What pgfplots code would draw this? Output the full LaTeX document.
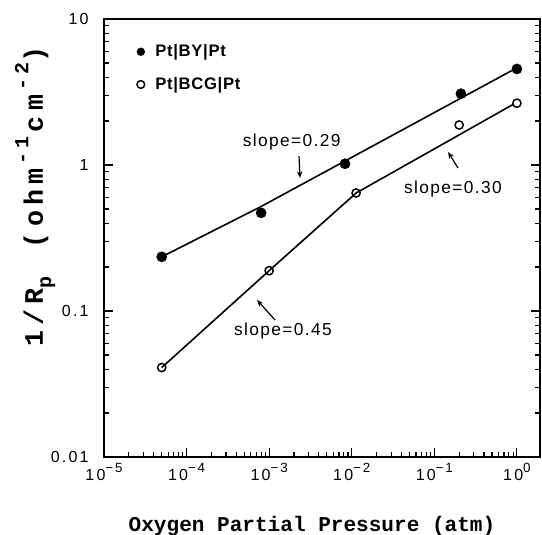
\documentclass[border=0pt]{standalone}
\usepackage{pgfplots}
\pgfplotsset{compat=1.18}
\usepackage{fontspec}
\usetikzlibrary{calc,arrows.meta}
\setmainfont{Liberation Sans}
\newfontfamily\labfont{Liberation Mono}
\newfontfamily\ylabfont{Liberation Mono}[LetterSpace=20]
\newfontfamily\tickfont{Liberation Sans}[LetterSpace=14]
\newfontfamily\slopefont{Liberation Sans}[LetterSpace=8]
\newfontfamily\legfont{Liberation Sans}[LetterSpace=4]
\newcommand\sx[1]{10\raisebox{0.5em}{\fontsize{10}{11}\selectfont #1}}

% 1/Rp vs pO2
\pgfplotstableread{
x y
5e-5 0.235
8e-4 0.47
8.3e-3 1.02
0.21 3.08
1.0 4.55
}\by
\pgfplotstableread{
x y
5e-5 0.041
1e-3 0.189
0.0113 0.643
0.20 1.88
1.0 2.65
}\bcg

\begin{document}
\begin{tikzpicture}
\begin{axis}[
  name=ax,
  xmode=log, ymode=log,
  scale only axis,
  width=327pt, height=328.5pt,
  xmin=1e-5, xmax=1.905,
  ymin=0.01, ymax=10,
  xtick={1e-5,1e-4,1e-3,1e-2,1e-1,1},
  xticklabels={\sx{−5},\sx{−4},\sx{−3},\sx{−2},\sx{−1},\sx{0}},
  ytick={0.01,0.1,1,10},
  yticklabels={0.01,0.1,1,10},
  xtick pos=bottom, ytick pos=both,
  tick align=inside,
  major tick length=7pt, minor tick length=3.5pt,
  axis line style={line width=1.3pt},
  every tick/.style={black, line width=0.9pt},
  tick label style={font=\tickfont\fontsize{12}{13}\selectfont},
  yticklabel style={xshift=-8pt},
  xticklabel style={yshift=-1pt},
  clip=false,
  legend style={at={(rel axis cs:0.075,0.948)}, anchor=north west,
    draw=none, fill=none, inner sep=0pt, row sep=10pt, column sep=6pt,
    font=\legfont\bfseries\fontsize{12.5}{14}\selectfont},
  legend cell align=left,
  legend image post style={mark size=2.9pt},
]
\addplot[black, line width=1.2pt, forget plot] coordinates {(5e-5,0.235) (8e-4,0.52) (0.865,4.43)};
\addplot[black, line width=1.2pt, forget plot] coordinates {(5e-5,0.041) (1e-3,0.189) (0.0113,0.643) (0.9,2.6)};
\addplot[only marks, mark=*, mark size=3.8pt, black] table[x=x,y=y] {\by};
\addlegendentry{Pt\textbar BY\textbar Pt}
\addplot[only marks, mark=o, mark size=3.1pt, black, line width=1.1pt, mark options={fill=white}] table[x=x,y=y] {\bcg};
\addlegendentry{Pt\textbar BCG\textbar Pt}

\draw[-{Stealth[length=5pt,width=4pt]}, line width=0.9pt] (axis cs:2.30e-3,1.15) -- (axis cs:2.36e-3,0.815);
\node[font=\slopefont\fontsize{13}{15}\selectfont] at (axis cs:1.875e-3,1.445) {slope=0.29};
\draw[-{Stealth[length=5pt,width=4pt]}, line width=0.9pt] (axis cs:0.1936,0.954) -- (axis cs:0.1466,1.228);
\node[font=\slopefont\fontsize{13}{15}\selectfont] at (axis cs:0.168,0.681) {slope=0.30};
\draw[-{Stealth[length=5pt,width=4pt]}, line width=0.9pt] (axis cs:1.18e-3,0.0867) -- (axis cs:7.13e-4,0.119);
\node[font=\slopefont\fontsize{13}{15}\selectfont] at (axis cs:1.47e-3,0.073) {slope=0.45};
\end{axis}

\node[anchor=base, font=\labfont\bfseries\fontsize{15.8}{18}\selectfont]
  at ($(ax.south)+(-7.5pt,-55.5pt)$) {Oxygen Partial Pressure (atm)};
\node[anchor=base, rotate=90, font=\ylabfont\bfseries\fontsize{20}{24}\selectfont]
  at ($(ax.south west)!0.594!(ax.north west)+(-45.75pt,0)$)
  {1/R\raisebox{-0.3em}{\fontsize{15}{18}\selectfont p}\hspace{5pt} (ohm\hspace{3pt}\raisebox{0.55em}{\fontsize{15}{18}\selectfont -1}\hspace{3pt}cm\hspace{3pt}\raisebox{0.55em}{\fontsize{15}{18}\selectfont -2})};

\pgfresetboundingbox
\path[use as bounding box] ($(ax.south west)+(-78pt,-57.75pt)$) rectangle ($(ax.north east)+(1.5pt,14.25pt)$);
\end{tikzpicture}
\end{document}
